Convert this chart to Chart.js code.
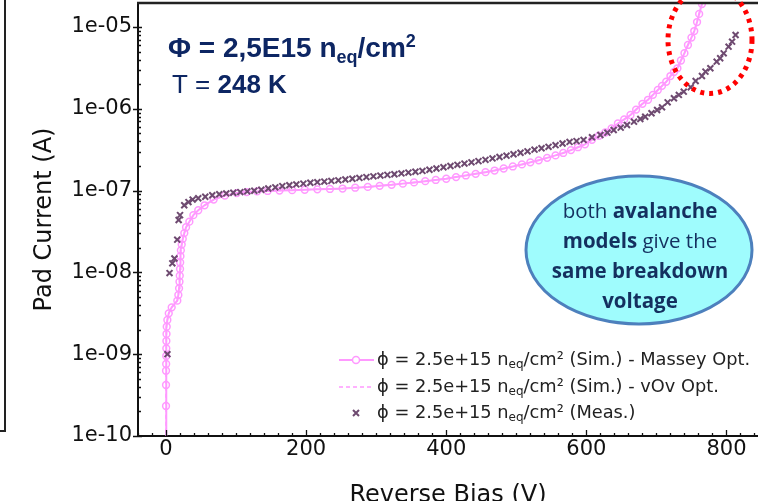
<!DOCTYPE html>
<html>
<head>
<meta charset="utf-8">
<script src="https://cdn.jsdelivr.net/npm/chart.js@4"></script>
<style>
  html, body { margin: 0; padding: 0; background: #fff; }
  canvas { display: block; }
</style>
</head>
<body>
<canvas id="ivChart" width="758" height="501"></canvas>
<script>
// Measured pad current (A) vs reverse bias (V)
const measVoltage = [2, 5, 9, 12, 16, 18, 20, 26, 32, 38,
  46, 56, 66, 76, 86, 96, 106, 116, 126, 136, 146, 156, 166, 176, 186, 196,
  206, 216, 226, 236, 246, 256, 266, 276, 286, 296, 306, 316, 326, 336, 346,
  356, 366, 376, 386, 396, 406, 416, 426, 436, 446, 456, 466, 476, 486, 496,
  506, 516, 526, 536, 546, 556, 566, 576, 586,
  596, 608, 620, 630, 639, 649, 658, 668, 677, 684, 693, 701, 708, 716, 725,
  732, 739, 749, 756, 765, 770, 777, 786, 791, 796, 803, 808, 813];
const measCurrent = [1.0e-9, 9.8e-9, 1.29e-8, 1.48e-8, 2.51e-8, 4.37e-8, 5.01e-8, 6.61e-8, 7.24e-8, 7.76e-8,
  8.05e-8, 8.41e-8, 8.77e-8, 9.02e-8, 9.23e-8, 9.40e-8, 9.59e-8, 9.77e-8, 9.95e-8, 1.023e-7,
  1.059e-7, 1.096e-7, 1.135e-7, 1.161e-7, 1.189e-7, 1.216e-7, 1.245e-7, 1.268e-7, 1.288e-7, 1.312e-7,
  1.334e-7, 1.365e-7, 1.396e-7, 1.429e-7, 1.462e-7, 1.493e-7, 1.524e-7, 1.556e-7, 1.585e-7, 1.622e-7,
  1.660e-7, 1.698e-7, 1.738e-7, 1.799e-7, 1.862e-7, 1.928e-7, 1.995e-7, 2.065e-7, 2.138e-7, 2.213e-7,
  2.291e-7, 2.377e-7, 2.472e-7, 2.570e-7, 2.673e-7, 2.780e-7, 2.897e-7, 3.020e-7, 3.162e-7, 3.289e-7,
  3.428e-7, 3.589e-7, 3.758e-7, 3.936e-7, 4.027e-7,
  4.159e-7, 4.487e-7, 4.786e-7, 5.105e-7, 5.508e-7, 5.875e-7, 6.339e-7, 6.950e-7, 7.499e-7, 7.998e-7,
  8.810e-7, 9.66e-7, 1.042e-6, 1.199e-6, 1.343e-6, 1.476e-6, 1.618e-6, 1.832e-6, 2.188e-6, 2.518e-6,
  2.844e-6, 3.126e-6, 3.767e-6, 4.140e-6, 4.764e-6, 5.741e-6, 6.607e-6, 7.98e-6];

// Simulated pad current (Massey avalanche model)
const simVoltage = [0, 0, 0, 0, 0.2, 0.3, 0.4, 0.5, 0.7, 1.0,
  1.9, 3.9, 8.1, 16.1, 17.6, 18.6, 19.2, 19.6, 20.0, 20.2,
  20.6, 21.2, 22.4, 23.9, 26.1, 28.6, 33.3, 39, 46, 55,
  68, 84, 101, 115, 130, 145, 162, 180, 198, 216,
  234, 252, 270, 288, 305, 322, 338, 354, 370, 385,
  400, 414, 428, 442, 456, 469, 482, 495, 508, 520,
  532, 544, 556, 567, 578, 588, 598, 608, 618, 627,
  636, 645, 654, 663, 671, 680, 688, 695, 702, 708,
  714, 720, 725, 730, 735, 740, 745, 750, 754, 758,
  761, 765, 768];
const simCurrent = [5.0e-11, 2.33e-10, 4.20e-10, 6.28e-10, 7.59e-10, 9.51e-10, 1.18e-9, 1.45e-9, 1.77e-9, 2.17e-9,
  2.62e-9, 3.16e-9, 3.74e-9, 4.51e-9, 5.30e-9, 6.38e-9, 7.69e-9, 9.12e-9, 1.10e-8, 1.32e-8,
  1.58e-8, 1.86e-8, 2.19e-8, 2.57e-8, 3.02e-8, 3.56e-8, 4.17e-8, 5.01e-8, 5.75e-8, 6.61e-8,
  7.76e-8, 8.71e-8, 9.33e-8, 9.59e-8, 9.77e-8, 9.89e-8, 1.00e-7, 1.012e-7, 1.023e-7, 1.035e-7,
  1.047e-7, 1.059e-7, 1.084e-7, 1.109e-7, 1.143e-7, 1.175e-7, 1.216e-7, 1.259e-7, 1.303e-7, 1.349e-7,
  1.396e-7, 1.462e-7, 1.531e-7, 1.603e-7, 1.679e-7, 1.758e-7, 1.862e-7, 1.972e-7, 2.089e-7, 2.213e-7,
  2.344e-7, 2.512e-7, 2.692e-7, 2.884e-7, 3.126e-7, 3.388e-7, 3.673e-7, 4.169e-7, 4.677e-7, 5.129e-7,
  5.754e-7, 6.607e-7, 7.413e-7, 8.395e-7, 9.772e-7, 1.148e-6, 1.288e-6, 1.479e-6, 1.698e-6, 1.905e-6,
  2.138e-6, 2.512e-6, 2.818e-6, 3.126e-6, 3.890e-6, 4.786e-6, 6.026e-6, 7.413e-6, 8.913e-6, 1.148e-5,
  1.445e-5, 1.905e-5, 2.512e-5];

const xTicks = [0, 200, 400, 600, 800];
const yTicks = [1e-10, 1e-9, 1e-8, 1e-7, 1e-6, 1e-5];
const yTickLabels = ['1e-10', '1e-09', '1e-08', '1e-07', '1e-06', '1e-05'];

const legendLabels = [
  ['ϕ = 2.5e+15 n', 'eq', '/cm² (Sim.) - Massey Opt.'],
  ['ϕ = 2.5e+15 n', 'eq', '/cm² (Sim.) - vOv Opt.'],
  ['ϕ = 2.5e+15 n', 'eq', '/cm² (Meas.)']
];

const PINK = '#ff99ff';
const PURPLE = '#6e4a70';
const NAVY = '#0d2663';

const toPoints = (xs, ys) => xs.map((v, i) => ({ x: v, y: ys[i] }));

// draws text pieces left to right, "sub"/"sup" pieces shifted and smaller
function richText(ctx, x, y, parts) {
  for (const p of parts) {
    ctx.font = p.font;
    ctx.fillText(p.t, x, y + (p.dy || 0));
    x += ctx.measureText(p.t).width;
  }
  return x;
}

const decorations = {
  id: 'decorations',
  afterDraw(chart) {
    const { ctx, chartArea: a, scales: { x, y } } = chart;
    ctx.save();

    // inward tick marks
    ctx.strokeStyle = '#111';
    ctx.lineWidth = 1.3;
    ctx.beginPath();
    for (let v = -40; v <= 840; v += 20) {
      const px = Math.round(x.getPixelForValue(v)) + 0.5;
      const len = xTicks.includes(v) ? 6 : 3;
      ctx.moveTo(px, a.bottom);
      ctx.lineTo(px, a.bottom - len);
    }
    for (let e = -10; e <= -5; e++) {
      for (let m = 1; m <= 9; m++) {
        const v = m * Math.pow(10, e);
        if (v > y.max) continue;
        const py = Math.round(y.getPixelForValue(v)) + 0.5;
        if (m === 1) { ctx.moveTo(a.left - 5, py); ctx.lineTo(a.left + 4, py); }
        else { ctx.moveTo(a.left, py); ctx.lineTo(a.left + 3, py); }
      }
    }
    ctx.stroke();

    // top frame line and the panel edge on the left
    ctx.lineWidth = 2.5;
    ctx.strokeStyle = '#222';
    ctx.beginPath();
    ctx.moveTo(a.left - 1, a.top);
    ctx.lineTo(chart.width, a.top);
    ctx.stroke();
    ctx.lineWidth = 2;
    ctx.beginPath();
    ctx.moveTo(5, 0);
    ctx.lineTo(5, 431);
    ctx.lineTo(0, 431);
    ctx.stroke();

    // legend
    const rows = [360, 387, 413];
    ctx.fillStyle = '#222';
    ctx.textBaseline = 'middle';
    ctx.textAlign = 'left';
    rows.forEach((ry, i) => {
      const lbl = legendLabels[i];
      richText(ctx, 377, ry, [
        { t: lbl[0], font: '17.8px "DejaVu Sans"' },
        { t: lbl[1], font: '12px "DejaVu Sans"', dy: 5 },
        { t: lbl[2], font: '17.8px "DejaVu Sans"' }
      ]);
    });
    ctx.strokeStyle = PINK;
    ctx.lineWidth = 2;
    ctx.beginPath();
    ctx.moveTo(339, rows[0]); ctx.lineTo(374, rows[0]);
    ctx.stroke();
    ctx.lineWidth = 1.5;
    ctx.beginPath();
    ctx.arc(356, rows[0], 3.5, 0, Math.PI * 2);
    ctx.fillStyle = '#fff';
    ctx.fill();
    ctx.stroke();
    ctx.setLineDash([4, 3]);
    ctx.beginPath();
    ctx.moveTo(339, rows[1]); ctx.lineTo(374, rows[1]);
    ctx.stroke();
    ctx.setLineDash([]);
    ctx.strokeStyle = PURPLE;
    ctx.lineWidth = 2;
    ctx.beginPath();
    ctx.moveTo(353, rows[2] - 3); ctx.lineTo(359, rows[2] + 3);
    ctx.moveTo(359, rows[2] - 3); ctx.lineTo(353, rows[2] + 3);
    ctx.stroke();

    // fluence and temperature
    ctx.fillStyle = NAVY;
    ctx.textBaseline = 'alphabetic';
    richText(ctx, 168, 57, [
      { t: 'Φ = 2,5E15 n', font: 'bold 28px "Liberation Sans"' },
      { t: 'eq', font: 'bold 18px "Liberation Sans"', dy: 6 },
      { t: '/cm', font: 'bold 28px "Liberation Sans"' },
      { t: '2', font: 'bold 18px "Liberation Sans"', dy: -10 }
    ]);
    richText(ctx, 172, 93, [
      { t: 'T = ', font: '26px "Liberation Sans"' },
      { t: '248 K', font: 'bold 26px "Liberation Sans"' }
    ]);

    // callout bubble
    ctx.beginPath();
    ctx.ellipse(639, 250, 113, 74, 0, 0, Math.PI * 2);
    ctx.fillStyle = '#9ffcfd';
    ctx.fill();
    ctx.lineWidth = 3;
    ctx.strokeStyle = '#4d80bd';
    ctx.stroke();
    const bubbleLines = [
      [['both ', false], ['avalanche', true]],
      [['models', true], [' give the', false]],
      [['same breakdown', true]],
      [['voltage', true]]
    ];
    ctx.fillStyle = '#14305f';
    ctx.textBaseline = 'middle';
    bubbleLines.forEach((line, i) => {
      const parts = line.map(([t, b]) => ({ t, font: (b ? 'bold ' : '') + '20.5px "Open Sans"' }));
      let w = 0;
      parts.forEach(p => { ctx.font = p.font; w += ctx.measureText(p.t).width; });
      richText(ctx, 640 - w / 2, 212 + i * 30, parts);
    });

    // dotted ring around the breakdown region
    ctx.beginPath();
    ctx.ellipse(710, 40, 42, 53.5, 0, 0, Math.PI * 2);
    ctx.strokeStyle = '#ff0000';
    ctx.lineWidth = 5;
    ctx.setLineDash([4, 5]);
    ctx.stroke();
    ctx.restore();
  }
};

new Chart(document.getElementById('ivChart').getContext('2d'), {
  type: 'line',
  data: {
    datasets: [
      {
        label: 'Meas.',
        data: toPoints(measVoltage, measCurrent),
        showLine: false,
        pointStyle: 'crossRot',
        pointRadius: 4.2,
        pointBorderWidth: 2,
        borderColor: PURPLE,
        backgroundColor: PURPLE
      },
      {
        label: 'Sim. - vOv Opt.',
        data: toPoints(simVoltage, simCurrent),
        borderColor: PINK,
        borderWidth: 1.5,
        borderDash: [4, 3],
        pointRadius: 0
      },
      {
        label: 'Sim. - Massey Opt.',
        data: toPoints(simVoltage, simCurrent),
        borderColor: PINK,
        borderWidth: 2,
        pointStyle: 'circle',
        pointRadius: 3.4,
        pointBorderWidth: 1.5,
        pointBorderColor: PINK,
        pointBackgroundColor: 'rgba(255,255,255,0)',
        tension: 0
      }
    ]
  },
  options: {
    responsive: false,
    animation: false,
    devicePixelRatio: 1,
    layout: { autoPadding: false, padding: { top: 3, right: 0, left: 0, bottom: 0 } },
    plugins: { legend: { display: false }, tooltip: { enabled: false } },
    scales: {
      x: {
        type: 'linear',
        min: -40,
        max: 845,
        afterBuildTicks: s => { s.ticks = xTicks.map(v => ({ value: v })); },
        afterFit: s => { s.height = 65; s.paddingLeft = 0; s.paddingRight = 0; },
        grid: { display: false, drawTicks: false },
        border: { color: '#111', width: 2 },
        ticks: { color: '#111', padding: 1, font: { family: 'DejaVu Sans', size: 21 } },
        title: {
          display: true,
          text: 'Reverse Bias (V)',
          color: '#111',
          font: { family: 'DejaVu Sans', size: 24 },
          padding: { top: 0, bottom: -9 }
        }
      },
      y: {
        type: 'logarithmic',
        min: 1e-10,
        max: 1.963e-5,
        afterBuildTicks: s => { s.ticks = yTicks.map(v => ({ value: v })); },
        afterFit: s => { s.width = 138; s.paddingTop = 0; s.paddingBottom = 0; },
        grid: { display: false, drawTicks: false },
        border: { color: '#111', width: 2 },
        ticks: {
          color: '#111',
          padding: 6,
          font: { family: 'DejaVu Sans', size: 21 },
          callback: v => yTickLabels[yTicks.indexOf(v)]
        },
        title: {
          display: true,
          text: 'Pad Current (A)',
          color: '#111',
          font: { family: 'DejaVu Sans', size: 24 },
          padding: { top: 30, bottom: 0 }
        }
      }
    }
  },
  plugins: [decorations]
});
</script>
</body>
</html>
